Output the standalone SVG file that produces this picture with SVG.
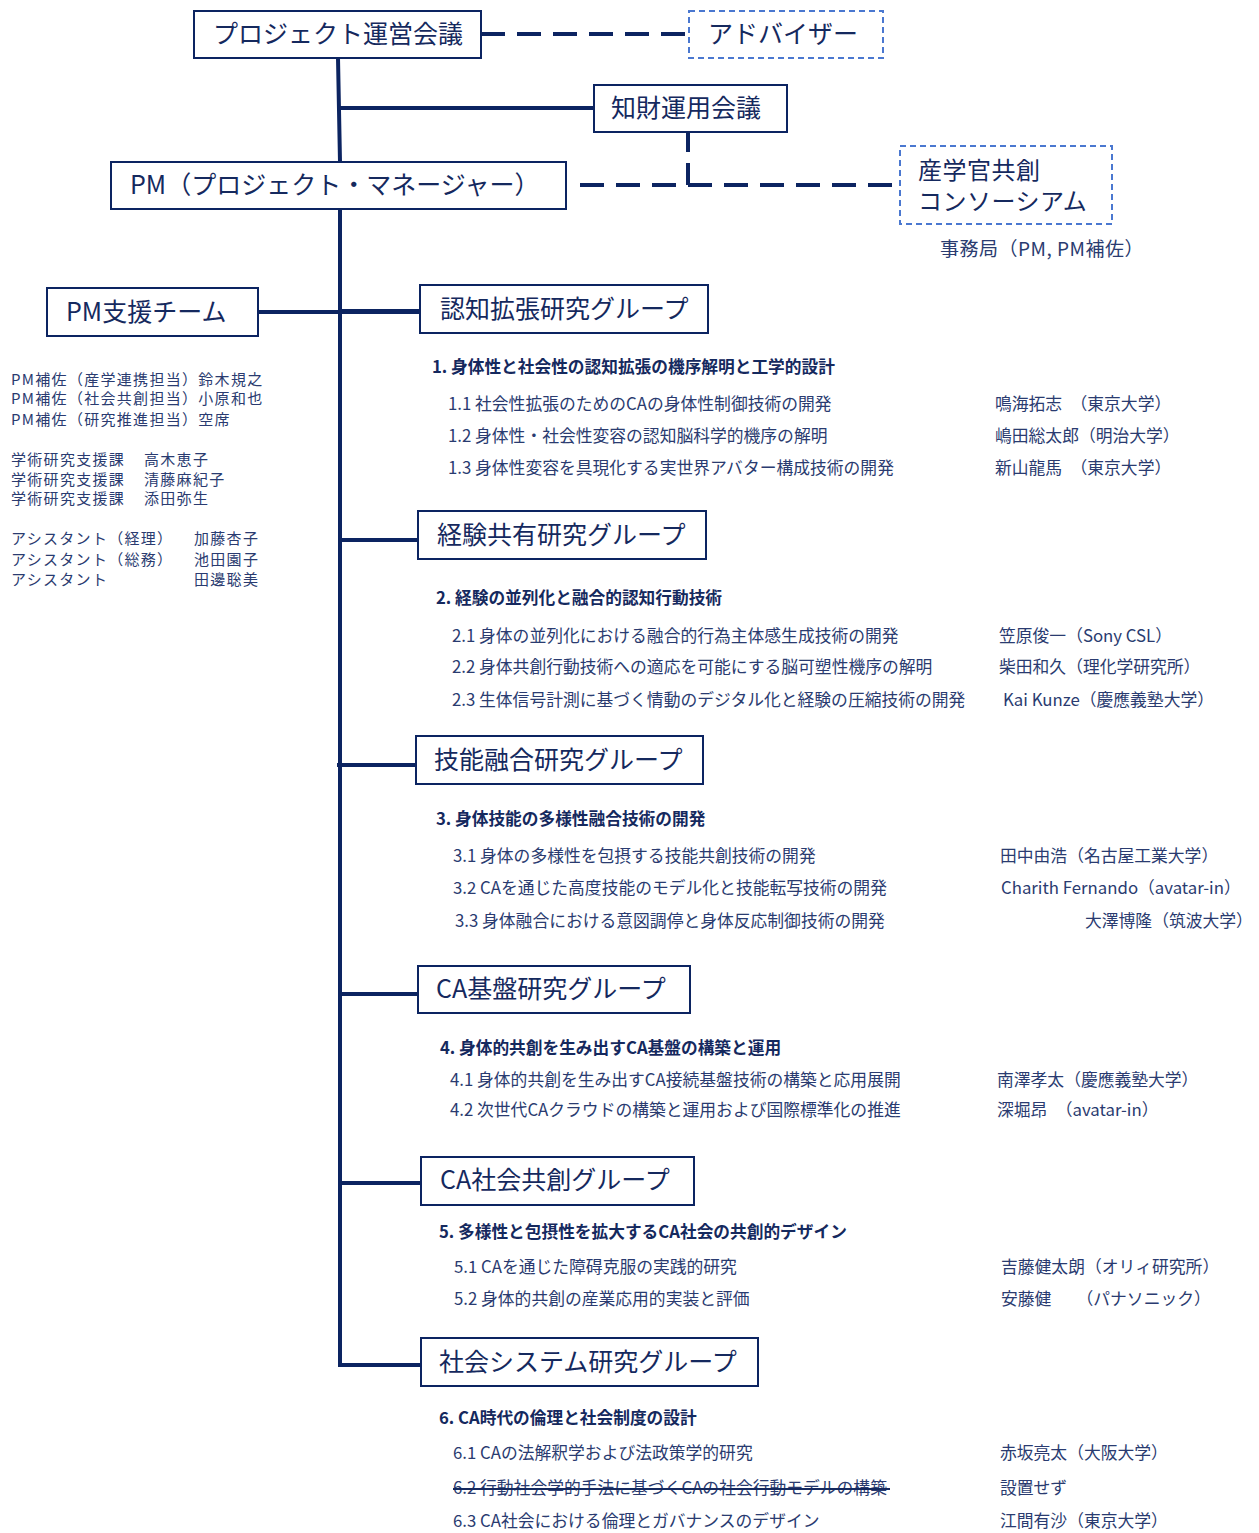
<svg xmlns="http://www.w3.org/2000/svg" width="1259" height="1533" viewBox="0 0 1259 1533">
<style>
text{font-family:"Noto Sans CJK JP","Noto Sans",sans-serif;fill:#15295e}
.box{fill:#fff;stroke:#0c2461;stroke-width:2}
.dbox{fill:#fff;stroke:#4a78d0;stroke-width:2;stroke-dasharray:6 4}
.t{font-size:25px}
.h{font-size:16.7px;font-weight:bold}
.i{font-size:16.8px;fill:#2a3b70}
.s{font-size:15px;letter-spacing:1.3px;fill:#2a3b70}
.ln{stroke:#0c2461;stroke-width:4;fill:none}
.dl{stroke:#0c2461;stroke-width:4;fill:none;stroke-dasharray:24 12}
</style>
<rect width="1259" height="1533" fill="#fff"/>
<g id="connectors">
<path class="ln" d="M338 58 L340 162 M340 209 L340 1367"/>
<path class="ln" d="M340 108 H594"/>
<path class="dl" d="M481 34 H689"/>
<path class="dl" d="M580 185 H900"/>
<path class="ln" d="M688 132 V152 M688 163 V185"/>
<path class="ln" d="M258 312 H420"/>
<path class="ln" d="M340 311 H420"/>
<path class="ln" d="M340 540 H418"/>
<path class="ln" d="M337 765 H416"/>
<path class="ln" d="M340 994 H418"/>
<path class="ln" d="M340 1183 H421"/>
<path class="ln" d="M340 1365 H421"/>
</g>
<g id="n-unei"><rect class="box" x="194" y="11" width="287" height="47"/><text class="t" x="213" y="43">プロジェクト運営会議</text></g>
<g id="n-advisor"><rect class="dbox" x="689" y="11" width="194" height="47"/><text class="t" x="708" y="43">アドバイザー</text></g>
<g id="n-chizai"><rect class="box" x="594" y="85" width="193" height="47"/><text class="t" x="611" y="117">知財運用会議</text></g>
<g id="n-pm"><rect class="box" x="111" y="162" width="455" height="47"/><text class="t" x="130" y="194">PM（プロジェクト・マネージャー）</text></g>
<g id="n-consortium"><rect class="dbox" x="900" y="146" width="212" height="78"/><text x="918" y="179" style="font-size:24px;letter-spacing:0.5px">産学官共創</text><text x="918" y="210" style="font-size:24px;letter-spacing:0.5px">コンソーシアム</text><text x="940" y="256" style="font-size:19px;letter-spacing:0.5px;fill:#2a3b70">事務局（PM, PM補佐）</text></g>
<g id="n-support"><rect class="box" x="47" y="288" width="211" height="48"/><text class="t" x="66" y="321">PM支援チーム</text>
<text class="s" x="11" y="385">PM補佐（産学連携担当）鈴木規之</text>
<text class="s" x="11" y="404">PM補佐（社会共創担当）小原和也</text>
<text class="s" x="11" y="425">PM補佐（研究推進担当）空席</text>
<text class="s" x="11" y="465">学術研究支援課</text><text class="s" x="144" y="465">高木恵子</text>
<text class="s" x="11" y="485">学術研究支援課</text><text class="s" x="144" y="485">清藤麻紀子</text>
<text class="s" x="11" y="504">学術研究支援課</text><text class="s" x="144" y="504">添田弥生</text>
<text class="s" x="11" y="544">アシスタント（経理）</text><text class="s" x="194" y="544">加藤杏子</text>
<text class="s" x="11" y="565">アシスタント（総務）</text><text class="s" x="194" y="565">池田園子</text>
<text class="s" x="11" y="585">アシスタント</text><text class="s" x="194" y="585">田邊聡美</text>
</g>
<g id="g1"><rect class="box" x="420" y="285" width="288" height="48"/><text class="t" x="440" y="318">認知拡張研究グループ</text>
<text class="h" x="432" y="373">1. 身体性と社会性の認知拡張の機序解明と工学的設計</text>
<text class="i" x="448" y="410">1.1 社会性拡張のためのCAの身体性制御技術の開発</text><text class="i" x="995" y="410">鳴海拓志　（東京大学）</text>
<text class="i" x="448" y="442">1.2 身体性・社会性変容の認知脳科学的機序の解明</text><text class="i" x="995" y="442">嶋田総太郎（明治大学）</text>
<text class="i" x="448" y="474">1.3 身体性変容を具現化する実世界アバター構成技術の開発</text><text class="i" x="995" y="474">新山龍馬　（東京大学）</text>
</g>
<g id="g2"><rect class="box" x="418" y="511" width="288" height="48"/><text class="t" x="437" y="544">経験共有研究グループ</text>
<text class="h" x="436" y="604">2. 経験の並列化と融合的認知行動技術</text>
<text class="i" x="452" y="642">2.1 身体の並列化における融合的行為主体感生成技術の開発</text><text class="i" x="999" y="642">笠原俊一（Sony CSL）</text>
<text class="i" x="452" y="673">2.2 身体共創行動技術への適応を可能にする脳可塑性機序の解明</text><text class="i" x="999" y="673">柴田和久（理化学研究所）</text>
<text class="i" x="452" y="706">2.3 生体信号計測に基づく情動のデジタル化と経験の圧縮技術の開発</text><text class="i" x="1003" y="706">Kai Kunze（慶應義塾大学）</text>
</g>
<g id="g3"><rect class="box" x="416" y="736" width="287" height="48"/><text class="t" x="434" y="769">技能融合研究グループ</text>
<text class="h" x="436" y="825">3. 身体技能の多様性融合技術の開発</text>
<text class="i" x="453" y="862">3.1 身体の多様性を包摂する技能共創技術の開発</text><text class="i" x="1000" y="862">田中由浩（名古屋工業大学）</text>
<text class="i" x="453" y="894">3.2 CAを通じた高度技能のモデル化と技能転写技術の開発</text><text class="i" x="1001" y="894">Charith Fernando（avatar-in）</text>
<text class="i" x="455" y="927">3.3 身体融合における意図調停と身体反応制御技術の開発</text><text class="i" x="1085" y="927">大澤博隆（筑波大学）</text>
</g>
<g id="g4"><rect class="box" x="418" y="966" width="272" height="47"/><text class="t" x="436" y="998">CA基盤研究グループ</text>
<text class="h" x="440" y="1054">4. 身体的共創を生み出すCA基盤の構築と運用</text>
<text class="i" x="450" y="1086">4.1 身体的共創を生み出すCA接続基盤技術の構築と応用展開</text><text class="i" x="997" y="1086">南澤孝太（慶應義塾大学）</text>
<text class="i" x="450" y="1116">4.2 次世代CAクラウドの構築と運用および国際標準化の推進</text><text class="i" x="997" y="1116">深堀昂　（avatar-in）</text>
</g>
<g id="g5"><rect class="box" x="421" y="1157" width="273" height="48"/><text class="t" x="440" y="1189">CA社会共創グループ</text>
<text class="h" x="439" y="1238">5. 多様性と包摂性を拡大するCA社会の共創的デザイン</text>
<text class="i" x="454" y="1273">5.1 CAを通じた障碍克服の実践的研究</text><text class="i" x="1001" y="1273">吉藤健太朗（オリィ研究所）</text>
<text class="i" x="454" y="1305">5.2 身体的共創の産業応用的実装と評価</text><text class="i" x="1001" y="1305">安藤健　　（パナソニック）</text>
</g>
<g id="g6"><rect class="box" x="421" y="1338" width="337" height="48"/><text class="t" x="439" y="1371">社会システム研究グループ</text>
<text class="h" x="439" y="1424">6. CA時代の倫理と社会制度の設計</text>
<text class="i" x="453" y="1459">6.1 CAの法解釈学および法政策学的研究</text><text class="i" x="1000" y="1459">赤坂亮太（大阪大学）</text>
<text class="i" x="453" y="1494">6.2 行動社会学的手法に基づくCAの社会行動モデルの構築</text><line x1="453" y1="1489" x2="890" y2="1489" stroke="#15295e" stroke-width="2"/><text class="i" x="1000" y="1494">設置せず</text>
<text class="i" x="453" y="1527">6.3 CA社会における倫理とガバナンスのデザイン</text><text class="i" x="1000" y="1527">江間有沙（東京大学）</text>
</g>
</svg>
